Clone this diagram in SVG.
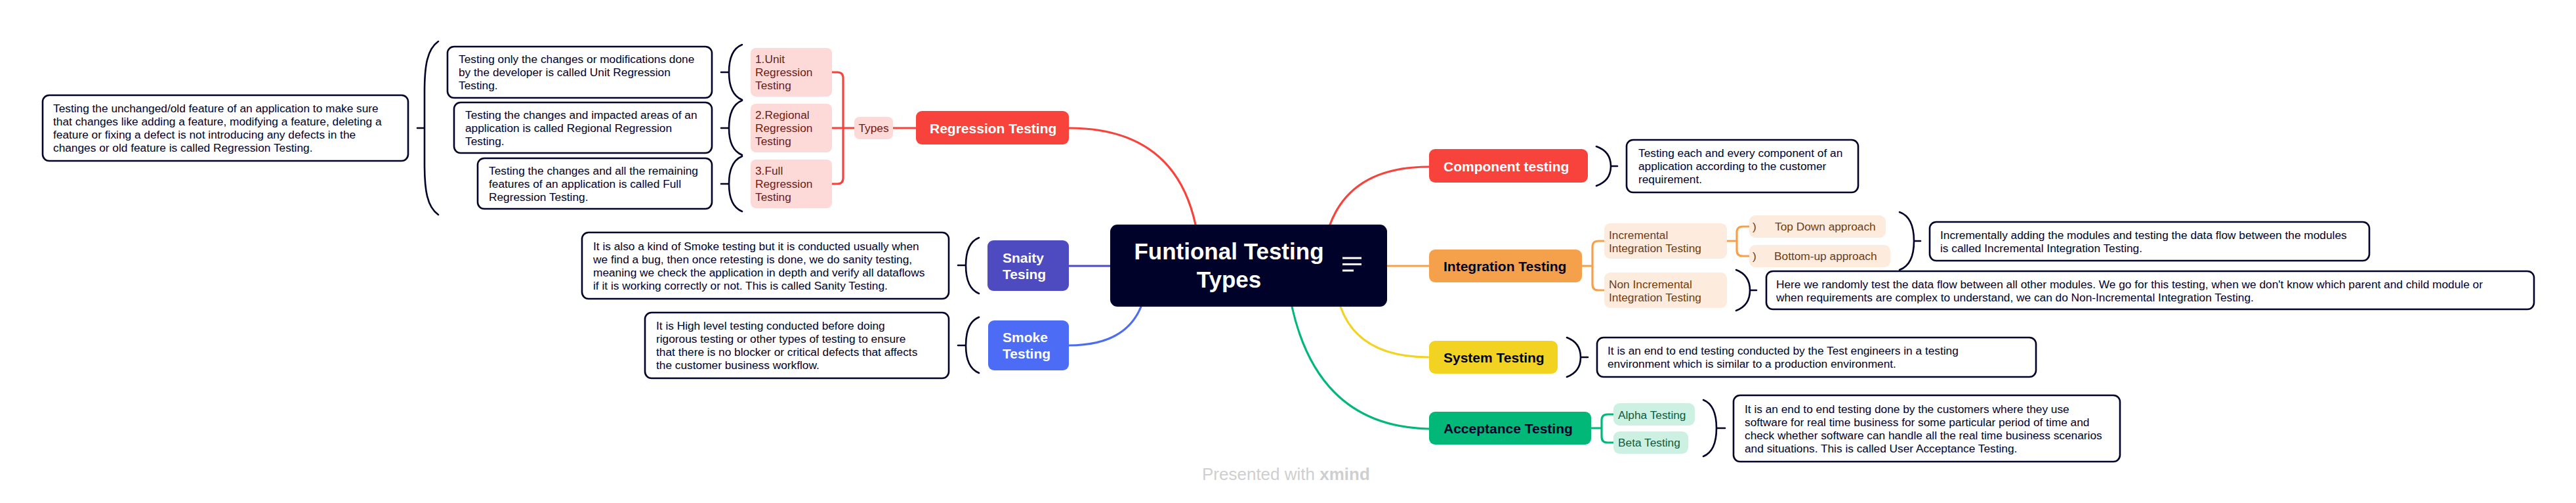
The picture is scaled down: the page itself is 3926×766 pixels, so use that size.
<svg xmlns="http://www.w3.org/2000/svg" width="3926" height="766" viewBox="0 0 3926 766">
<style>
text{font-family:"Liberation Sans",Arial,sans-serif}
.bg{fill:#ffffff}
.box{fill:#ffffff;stroke:#000229;stroke-width:2.6}
.br{fill:none;stroke:#000229;stroke-width:2.6;stroke-linecap:round}
.d{font-size:17.3px;fill:#000229}
.m{font-size:21px;font-weight:bold}
.w{fill:#ffffff}
.k{fill:#000229}
.s{font-size:17.3px}
.c{fill:none;stroke-width:3.2;stroke-linecap:round;stroke-linejoin:round}
.red{stroke:#F8433C}.ind{stroke:#4E4BC0}.blu{stroke:#4C6CF5}.ora{stroke:#F5A14C}.yel{stroke:#F2D321}.grn{stroke:#02B879}
</style>
<rect class="bg" x="0" y="0" width="3926" height="766"/>

<g id="connectors">
  <path class="c red" d="M1822 342 Q1790 195 1629 195"/>
  <path class="c red" d="M2027 342 Q2060 254 2178 254"/>
  <path class="c ind" d="M1629 405 H1693"/>
  <path class="c ora" d="M2114 405 H2178"/>
  <path class="c blu" d="M1739 467 Q1715 526 1629 526"/>
  <path class="c yel" d="M2043 467 Q2070 544 2178 544"/>
  <path class="c grn" d="M1969 467 Q2010 650 2178 653"/>
  <path class="c red" d="M1361 195 H1396"/>
  <path class="c red" d="M1302 195 H1268 M1268 110 H1276 Q1285 110 1285 119 V271 Q1285 280 1276 280 H1268"/>
  <path class="c ora" d="M2411 405 H2427 M2445 367 H2436 Q2427 367 2427 376 V433 Q2427 442 2436 442 H2445"/>
  <path class="c ora" d="M2632 367 H2647 M2666 345 H2656 Q2647 345 2647 354 V381 Q2647 390 2656 390 H2666"/>
  <path class="c grn" d="M2425 652 H2441 M2459 631 H2450 Q2441 631 2441 640 V665 Q2441 674 2450 674 H2459"/>
  <!-- braces -->
  <path class="br" d="M668 63 C651 75 647 100 647 140 V250 C647 290 651 315 668 327 M647 195 H636"/>
  <path class="br" d="M1131 68 C1116 74 1111 90 1111 110 C1111 130 1116 146 1131 152 M1111 110 H1099"/>
  <path class="br" d="M1131 153 C1116 159 1111 175 1111 195 C1111 215 1116 230 1131 236 M1111 195 H1099"/>
  <path class="br" d="M1131 238 C1116 244 1111 260 1111 280 C1111 300 1116 316 1131 322 M1111 280 H1099"/>
  <path class="br" d="M1492 362 C1477 368 1472 384 1472 404 C1472 425 1477 441 1492 447 M1472 404 H1460"/>
  <path class="br" d="M1492 483 C1477 489 1472 505 1472 526 C1472 547 1477 562 1492 568 M1472 526 H1460"/>
  <path class="br" d="M2433 223 C2450 229 2455 240 2455 253 C2455 266 2450 277 2433 283 M2455 253 H2465"/>
  <path class="br" d="M2895 323 C2912 329 2917 347 2917 367 C2917 387 2912 405 2895 411 M2917 367 H2927"/>
  <path class="br" d="M2646 411 C2662 417 2667 428 2667 442 C2667 456 2662 467 2646 473 M2667 442 H2677"/>
  <path class="br" d="M2388 514 C2404 520 2409 531 2409 544 C2409 557 2404 568 2388 574 M2409 544 H2420"/>
  <path class="br" d="M2596 609 C2611 615 2616 632 2616 652 C2616 672 2611 689 2596 695 M2616 652 H2629"/>
</g>

<g id="central">
  <rect x="1692" y="342" width="422" height="125" rx="11" fill="#000229"/>
  <text x="1873" y="394.5" font-size="35" font-weight="bold" fill="#ffffff" text-anchor="middle">Funtional Testing</text>
  <text x="1873" y="437.5" font-size="35" font-weight="bold" fill="#ffffff" text-anchor="middle">Types</text>
  <path d="M2046 393 H2075 M2046 402.5 H2075 M2046 412 H2063" stroke="#ffffff" stroke-width="3"/>
</g>

<g id="regression">
  <rect x="1396" y="169" width="233" height="51" rx="9" fill="#F8433C"/>
  <text class="m w" x="1417" y="202.5">Regression Testing</text>
</g>
<g id="types">
  <rect x="1302" y="178" width="59" height="34" rx="8" fill="#FDDAD7"/>
  <text class="s" x="1331.5" y="201" fill="#6A1B17" text-anchor="middle">Types</text>
</g>
<g id="unit">
  <rect x="1144" y="73" width="124" height="74" rx="8" fill="#FDDAD7"/>
  <text class="s" fill="#6A1B17"><tspan x="1151" y="96">1.Unit</tspan><tspan x="1151" y="116">Regression</tspan><tspan x="1151" y="136">Testing</tspan></text>
</g>
<g id="regional">
  <rect x="1144" y="158" width="124" height="74" rx="8" fill="#FDDAD7"/>
  <text class="s" fill="#6A1B17"><tspan x="1151" y="181">2.Regional</tspan><tspan x="1151" y="201">Regression</tspan><tspan x="1151" y="221">Testing</tspan></text>
</g>
<g id="full">
  <rect x="1144" y="243" width="124" height="74" rx="8" fill="#FDDAD7"/>
  <text class="s" fill="#6A1B17"><tspan x="1151" y="266">3.Full</tspan><tspan x="1151" y="286">Regression</tspan><tspan x="1151" y="306">Testing</tspan></text>
</g>
<g id="unit-desc">
  <rect class="box" x="682" y="71" width="403" height="78" rx="10"/>
  <text class="d"><tspan x="699" y="96">Testing only the changes or modifications done</tspan><tspan x="699" y="116">by the developer is called Unit Regression</tspan><tspan x="699" y="136">Testing.</tspan></text>
</g>
<g id="regional-desc">
  <rect class="box" x="692" y="156" width="393" height="77" rx="10"/>
  <text class="d"><tspan x="709" y="181">Testing the changes and impacted areas of an</tspan><tspan x="709" y="201">application is called Regional Regression</tspan><tspan x="709" y="221">Testing.</tspan></text>
</g>
<g id="full-desc">
  <rect class="box" x="728" y="241" width="357" height="77" rx="10"/>
  <text class="d"><tspan x="745" y="266">Testing the changes and all the remaining</tspan><tspan x="745" y="286">features of an application is called Full</tspan><tspan x="745" y="306">Regression Testing.</tspan></text>
</g>
<g id="regression-desc">
  <rect class="box" x="65" y="145" width="557" height="100" rx="10"/>
  <text class="d"><tspan x="81" y="171">Testing the unchanged/old feature of an application to make sure</tspan><tspan x="81" y="191">that changes like adding a feature, modifying a feature, deleting a</tspan><tspan x="81" y="211">feature or fixing a defect is not introducing any defects in the</tspan><tspan x="81" y="231">changes or old feature is called Regression Testing.</tspan></text>
</g>

<g id="sanity">
  <rect x="1505" y="366" width="124" height="77" rx="9" fill="#4E4BC0"/>
  <text class="m w"><tspan x="1528" y="400">Snaity</tspan><tspan x="1528" y="425">Tesing</tspan></text>
</g>
<g id="sanity-desc">
  <rect class="box" x="887" y="354" width="559" height="101" rx="10"/>
  <text class="d"><tspan x="904" y="381">It is also a kind of Smoke testing but it is conducted usually when</tspan><tspan x="904" y="401">we find a bug, then once retesting is done, we do sanity testing,</tspan><tspan x="904" y="421">meaning we check the application in depth and verify all dataflows</tspan><tspan x="904" y="441">if it is working correctly or not. This is called Sanity Testing.</tspan></text>
</g>
<g id="smoke">
  <rect x="1506" y="488" width="123" height="76" rx="9" fill="#4C6CF5"/>
  <text class="m w"><tspan x="1528" y="521">Smoke</tspan><tspan x="1528" y="546">Testing</tspan></text>
</g>
<g id="smoke-desc">
  <rect class="box" x="983" y="476" width="463" height="100" rx="10"/>
  <text class="d"><tspan x="1000" y="502">It is High level testing conducted before doing</tspan><tspan x="1000" y="522">rigorous testing or other types of testing to ensure</tspan><tspan x="1000" y="542">that there is no blocker or critical defects that affects</tspan><tspan x="1000" y="562">the customer business workflow.</tspan></text>
</g>

<g id="component">
  <rect x="2178" y="227" width="242" height="51" rx="9" fill="#F8433C"/>
  <text class="m w" x="2200" y="260.5">Component testing</text>
</g>
<g id="component-desc">
  <rect class="box" x="2479" y="213" width="353" height="80" rx="10"/>
  <text class="d"><tspan x="2497" y="239">Testing each and every component of an</tspan><tspan x="2497" y="259">application according to the customer</tspan><tspan x="2497" y="279">requirement.</tspan></text>
</g>

<g id="integration">
  <rect x="2178" y="380" width="233" height="50" rx="9" fill="#F5A14C"/>
  <text class="m k" x="2200" y="412.5">Integration Testing</text>
</g>
<g id="incremental">
  <rect x="2445" y="340" width="187" height="54" rx="9" fill="#FDEBDD"/>
  <text class="s" fill="#6B3E13"><tspan x="2452" y="364">Incremental</tspan><tspan x="2452" y="384">Integration Testing</tspan></text>
</g>
<g id="non-incremental">
  <rect x="2445" y="415" width="187" height="54" rx="9" fill="#FDEBDD"/>
  <text class="s" fill="#6B3E13"><tspan x="2452" y="439">Non Incremental</tspan><tspan x="2452" y="459">Integration Testing</tspan></text>
</g>
<g id="top-down">
  <rect x="2666" y="328" width="208" height="34" rx="9" fill="#FDEBDD"/>
  <text class="s" fill="#6B3E13"><tspan x="2671" y="351">)</tspan><tspan x="2705" y="351">Top Down approach</tspan></text>
</g>
<g id="bottom-up">
  <rect x="2666" y="373" width="215" height="34" rx="9" fill="#FDEBDD"/>
  <text class="s" fill="#6B3E13"><tspan x="2671" y="396">)</tspan><tspan x="2704" y="396">Bottom-up approach</tspan></text>
</g>
<g id="incremental-desc">
  <rect class="box" x="2941" y="338" width="670" height="59" rx="10"/>
  <text class="d"><tspan x="2957" y="364">Incrementally adding the modules and testing the data flow between the modules</tspan><tspan x="2957" y="384">is called Incremental Integration Testing.</tspan></text>
</g>
<g id="non-incremental-desc">
  <rect class="box" x="2692" y="413" width="1170" height="58" rx="10"/>
  <text class="d"><tspan x="2707" y="439">Here we randomly test the data flow between all other modules. We go for this testing, when we don't know which parent and child module or</tspan><tspan x="2707" y="459">when requirements are complex to understand, we can do Non-Incremental Integration Testing.</tspan></text>
</g>

<g id="system">
  <rect x="2178" y="519" width="196" height="50" rx="9" fill="#F2D321"/>
  <text class="m k" x="2200" y="551.5">System Testing</text>
</g>
<g id="system-desc">
  <rect class="box" x="2434" y="514" width="669" height="60" rx="10"/>
  <text class="d"><tspan x="2450" y="540">It is an end to end testing conducted by the Test engineers in a testing</tspan><tspan x="2450" y="560">environment which is similar to a production environment.</tspan></text>
</g>

<g id="acceptance">
  <rect x="2178" y="627" width="247" height="50" rx="9" fill="#02B879"/>
  <text class="m k" x="2200" y="659.5">Acceptance Testing</text>
</g>
<g id="alpha">
  <rect x="2459" y="614" width="124" height="34" rx="9" fill="#CCF1E3"/>
  <text class="s" x="2466" y="638" fill="#0D5C3F">Alpha Testing</text>
</g>
<g id="beta">
  <rect x="2459" y="657" width="114" height="34" rx="9" fill="#CCF1E3"/>
  <text class="s" x="2466" y="680" fill="#0D5C3F">Beta Testing</text>
</g>
<g id="acceptance-desc">
  <rect class="box" x="2642" y="602" width="589" height="101" rx="10"/>
  <text class="d"><tspan x="2659" y="629">It is an end to end testing done by the customers where they use</tspan><tspan x="2659" y="649">software for real time business for some particular period of time and</tspan><tspan x="2659" y="669">check whether software can handle all the real time business scenarios</tspan><tspan x="2659" y="689">and situations. This is called User Acceptance Testing.</tspan></text>
</g>

<g id="watermark">
  <text x="1832" y="731" font-size="26" fill="#CFCFCF">Presented with <tspan font-weight="bold">xmind</tspan></text>
</g>
</svg>
